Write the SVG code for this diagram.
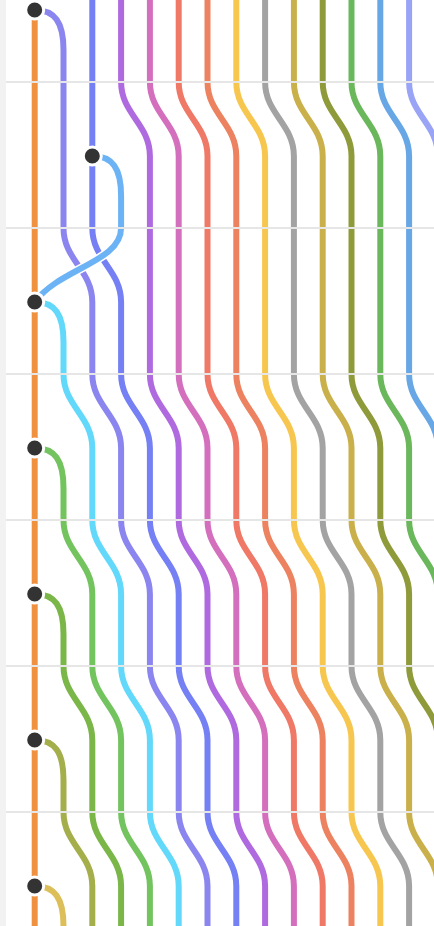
<svg xmlns="http://www.w3.org/2000/svg" width="434" height="926" viewBox="0 0 434 926">
<style>
.ln{fill:none;stroke-width:6}
.halo{fill:none;stroke:#fff;stroke-width:9}
.sep{fill:#e6e6e6}
.commit{fill:#333;stroke:#fff;stroke-width:3}
</style>
<rect x="0" y="0" width="434" height="926" fill="#fff"/>
<rect x="0" y="0" width="6" height="926" fill="#f2f2f2"/>
<g id="connectors">
<path class="ln" stroke="#f0913f" d="M34.7,10 V926"/>
<path class="ln" stroke="#8b86ef" d="M34.7,10 C54.7,10 63.5,22 63.5,50 V228 C63.5,260 92.3,270 92.3,302 V374 C92.3,406 121.1,416 121.1,448 V520 C121.1,552 149.9,562 149.9,594 V666 C149.9,698 178.7,708 178.7,740 V812 C178.7,844 207.5,854 207.5,886 V926"/>
<path class="ln" stroke="#7580f4" d="M92.3,0 V228 C92.3,260 121.1,270 121.1,302 V374 C121.1,406 149.9,416 149.9,448 V520 C149.9,552 178.7,562 178.7,594 V666 C178.7,698 207.5,708 207.5,740 V812 C207.5,844 236.3,854 236.3,886 V926"/>
<path class="ln" stroke="#b06ae0" d="M121.1,0 V82 C121.1,114 149.9,124 149.9,156 V374 C149.9,406 178.7,416 178.7,448 V520 C178.7,552 207.5,562 207.5,594 V666 C207.5,698 236.3,708 236.3,740 V812 C236.3,844 265.1,854 265.1,886 V926"/>
<path class="ln" stroke="#d46fbe" d="M149.9,0 V82 C149.9,114 178.7,124 178.7,156 V374 C178.7,406 207.5,416 207.5,448 V520 C207.5,552 236.3,562 236.3,594 V666 C236.3,698 265.1,708 265.1,740 V812 C265.1,844 293.9,854 293.9,886 V926"/>
<path class="ln" stroke="#ef7866" d="M178.7,0 V82 C178.7,114 207.5,124 207.5,156 V374 C207.5,406 236.3,416 236.3,448 V520 C236.3,552 265.1,562 265.1,594 V666 C265.1,698 293.9,708 293.9,740 V812 C293.9,844 322.7,854 322.7,886 V926"/>
<path class="ln" stroke="#ec8260" d="M207.5,0 V82 C207.5,114 236.3,124 236.3,156 V374 C236.3,406 265.1,416 265.1,448 V520 C265.1,552 293.9,562 293.9,594 V666 C293.9,698 322.7,708 322.7,740 V812 C322.7,844 351.5,854 351.5,886 V926"/>
<path class="ln" stroke="#f7c64f" d="M236.3,0 V82 C236.3,114 265.1,124 265.1,156 V374 C265.1,406 293.9,416 293.9,448 V520 C293.9,552 322.7,562 322.7,594 V666 C322.7,698 351.5,708 351.5,740 V812 C351.5,844 380.3,854 380.3,886 V926"/>
<path class="ln" stroke="#a3a3a3" d="M265.1,0 V82 C265.1,114 293.9,124 293.9,156 V374 C293.9,406 322.7,416 322.7,448 V520 C322.7,552 351.5,562 351.5,594 V666 C351.5,698 380.3,708 380.3,740 V812 C380.3,844 409.1,854 409.1,886 V926"/>
<path class="ln" stroke="#cab04b" d="M293.9,0 V82 C293.9,114 322.7,124 322.7,156 V374 C322.7,406 351.5,416 351.5,448 V520 C351.5,552 380.3,562 380.3,594 V666 C380.3,698 409.1,708 409.1,740 V812 C409.1,844 437.9,854 437.9,886 V926"/>
<path class="ln" stroke="#8f9b3a" d="M322.7,0 V82 C322.7,114 351.5,124 351.5,156 V374 C351.5,406 380.3,416 380.3,448 V520 C380.3,552 409.1,562 409.1,594 V666 C409.1,698 437.9,708 437.9,740 V926"/>
<path class="ln" stroke="#6ab75c" d="M351.5,0 V82 C351.5,114 380.3,124 380.3,156 V374 C380.3,406 409.1,416 409.1,448 V520 C409.1,552 437.9,562 437.9,594 V926"/>
<path class="ln" stroke="#68a7e6" d="M380.3,0 V82 C380.3,114 409.1,124 409.1,156 V374 C409.1,406 437.9,416 437.9,448 V926"/>
<path class="ln" stroke="#99a4f6" d="M409.1,0 V82 C409.1,114 437.9,124 437.9,156 V926"/>
<path class="halo" d="M121.1,228 C121.1,262 60,268 34.7,302"/>
<path class="ln" stroke="#6cb3f6" d="M92.3,156 C112.3,156 121.1,168 121.1,196 V228 C121.1,262 60,268 34.7,302"/>
<path class="ln" stroke="#62d8fa" d="M34.7,302 C54.7,302 63.5,314 63.5,342 V374 C63.5,406 92.3,416 92.3,448 V520 C92.3,552 121.1,562 121.1,594 V666 C121.1,698 149.9,708 149.9,740 V812 C149.9,844 178.7,854 178.7,886 V926"/>
<path class="ln" stroke="#73c45f" d="M34.7,448 C54.7,448 63.5,460 63.5,488 V520 C63.5,552 92.3,562 92.3,594 V666 C92.3,698 121.1,708 121.1,740 V812 C121.1,844 149.9,854 149.9,886 V926"/>
<path class="ln" stroke="#7ab648" d="M34.7,594 C54.7,594 63.5,606 63.5,634 V666 C63.5,698 92.3,708 92.3,740 V812 C92.3,844 121.1,854 121.1,886 V926"/>
<path class="ln" stroke="#a4ae4b" d="M34.7,740 C54.7,740 63.5,752 63.5,780 V812 C63.5,844 92.3,854 92.3,886 V926"/>
<path class="ln" stroke="#dcbf58" d="M34.7,886 C54.7,886 63.5,898 63.5,926"/>
</g>
<g id="separators">
<rect class="sep" x="6" y="81" width="428" height="2"/>
<rect class="sep" x="6" y="227" width="428" height="2"/>
<rect class="sep" x="6" y="373" width="428" height="2"/>
<rect class="sep" x="6" y="519" width="428" height="2"/>
<rect class="sep" x="6" y="665" width="428" height="2"/>
<rect class="sep" x="6" y="811" width="428" height="2"/>
</g>
<g id="commit-1"><circle class="commit" cx="34.7" cy="10" r="9"/></g>
<g id="commit-2"><circle class="commit" cx="92.3" cy="156" r="9"/></g>
<g id="commit-3"><circle class="commit" cx="34.7" cy="302" r="9"/></g>
<g id="commit-4"><circle class="commit" cx="34.7" cy="448" r="9"/></g>
<g id="commit-5"><circle class="commit" cx="34.7" cy="594" r="9"/></g>
<g id="commit-6"><circle class="commit" cx="34.7" cy="740" r="9"/></g>
<g id="commit-7"><circle class="commit" cx="34.7" cy="886" r="9"/></g>
</svg>
